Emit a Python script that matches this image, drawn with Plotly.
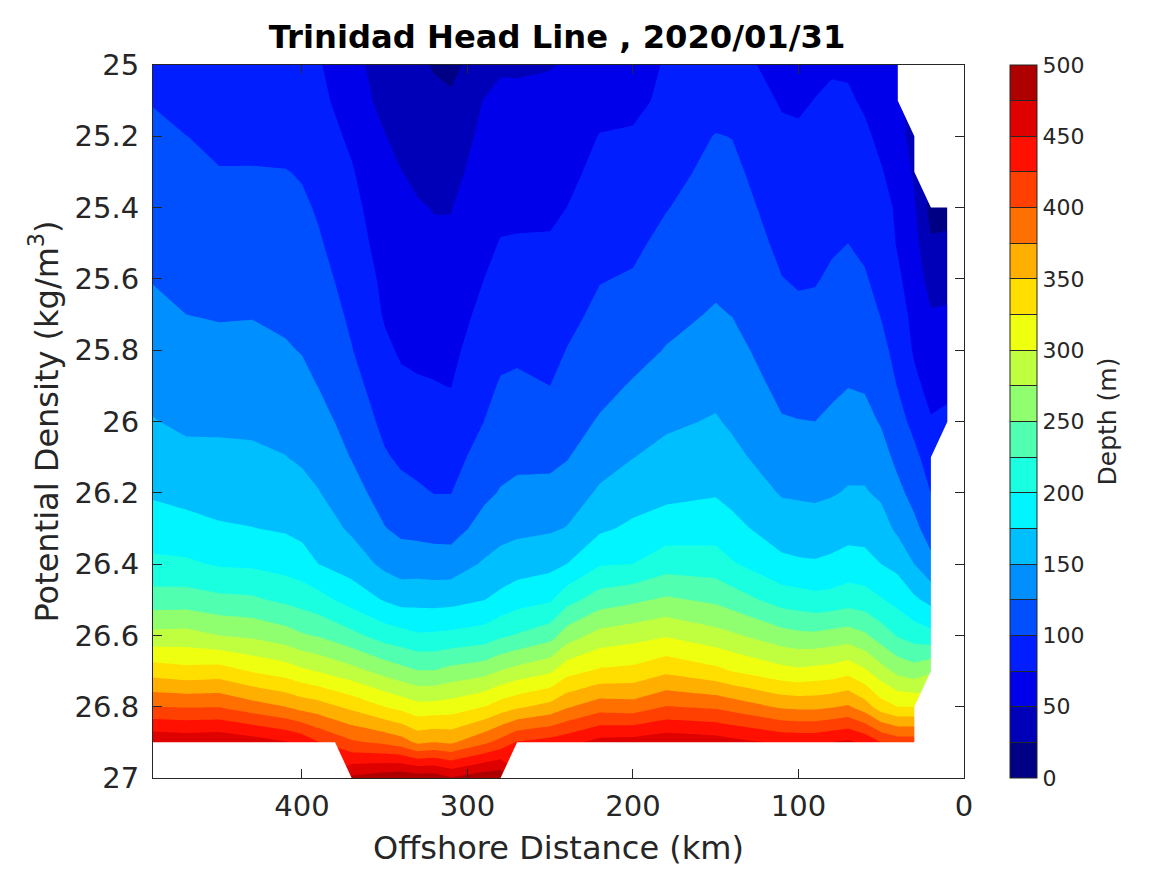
import numpy as np
import plotly.graph_objects as go

# potential density rows (kg/m3), top to bottom
density = [25.0, 25.1, 25.2, 25.3, 25.4, 25.5, 25.6, 25.7, 25.8, 25.9, 26.0,
           26.1, 26.2, 26.3, 26.4, 26.5, 26.6, 26.7, 26.8, 26.9, 27.0]

# depth (m) of each density surface, one list per offshore distance (km)
km490 = [92, 99, 104.5, 109, 114, 119, 124, 130, 137, 144, 151, 162, 172, 187, 205.5, 236.5, 282.6, 339, 400, 472, None]
km470 = [86, 90, 100.3, 105, 110, 115, 120, 125, 132, 139, 146, 155.5, 168, 183, 204, 237, 284, 333, 398.5, 468, None]
km450 = [84, 88, 95, 101, 106.6, 112, 118, 123.5, 130.5, 138, 146, 155, 165.5, 177.6, 197.5, 231, 275, 336, 399, 471, None]
km430 = [82, 86, 93, 101.5, 107, 113, 118.5, 124, 131, 138, 145.5, 154, 165, 175.5, 196, 229, 270.5, 323, 386, 463, None]
km410 = [78, 82, 90, 101, 106, 111, 116, 121, 127, 135, 142.5, 150.5, 161.5, 172.5, 190.5, 220, 261, 313.5, 375, 452, None]
km400 = [78, 82, 90, 98, 104, 109, 114, 119, 124, 131, 139, 147, 157, 168.5, 185.5, 215, 252.5, 305, 366, 443, None]
km390 = [77, 81, 86, 92, 97.5, 102.5, 108, 113.5, 119, 124.5, 133, 142, 151, 163, 175, 209, 248, 298.5, 361, 426, None]
km370 = [60, 64, 71, 77, 82, 86, 91, 96, 101, 109, 116.5, 124, 135, 146, 164, 190, 232, 284, 344, 404, 480]
km350 = [36, 42, 51, 57, 61, 65.5, 70, 73, 79, 86, 94, 102.5, 114, 126, 144, 173, 214, 266, 325, 395, 490]
km340 = [30, 35, 42, 50.5, 55, 59, 64, 68, 72.5, 79, 87.5, 96, 107, 119.5, 138, 166, 209, 258, 317, 387, 495]
km330 = [27, 30, 36, 45, 52, 56.5, 62, 66, 71, 77, 85, 93.5, 103, 118, 138, 167, 203, 251, 308, 370, 490]
km320 = [24, 28, 35, 43, 49, 54, 59.5, 65, 70, 76, 83.5, 91.5, 99.5, 116, 137, 166, 204, 251, 309, 375, 490]
km310 = [20, 28, 36, 42.5, 49, 54, 59.5, 64.5, 69.5, 74.5, 83, 91, 99.5, 115, 137, 167, 206, 258, 312, 371, 477]
km290 = [35, 51, 56, 61, 66, 70, 75, 81, 87.5, 94, 100, 110, 120, 134, 153, 174.5, 211, 265.5, 325, 394.5, 492]
km280 = [48, 54, 59.5, 65, 70.5, 76, 83.5, 90, 95, 102, 110, 118, 126.5, 141.5, 159, 182, 221, 276, 337, 409, 495]
km270 = [47, 55, 60.5, 65.5, 71, 76.5, 83, 89.5, 96, 104, 112, 120, 130, 144.5, 163, 190, 227, 284, 346, 427, None]
km250 = [49, 55, 60, 66, 71, 77, 82.5, 88.5, 94, 100, 110, 119.5, 131.5, 147, 168, 197, 240, 296, 358, 435, None]
km240 = [52, 57, 63, 69, 75, 81.5, 88, 94, 100.5, 108, 116, 123.5, 137, 151, 175, 216, 262, 316, 372, 441, None]
km220 = [57, 66, 76, 81.5, 87.5, 93, 99, 105, 111.5, 118.5, 127, 140, 153.5, 171, 198, 237, 284, 329, 388.5, 459, None]
km200 = [60, 68, 78, 84, 90, 95.5, 102, 110, 118, 127, 138, 149.5, 164, 179.5, 200, 245, 290.5, 332, 386, 461, None]
km180 = [78, 81, 87, 93, 99, 106, 112, 119, 126, 136, 146, 157, 169, 187, 214, 254, 298, 345, 401, 468, None]
km150 = [82, 90, 101, 106, 111, 116, 121, 127, 135, 143.5, 152, 163, 173, 189, 212, 245, 284, 332, 396, 463, None]
km140 = [82, 90, 99.5, 105, 110, 115, 119.5, 124.5, 131.5, 138.5, 146.5, 156, 168, 182, 202.5, 238, 279, 324, 390, 458, None]
km110 = [68, 73, 79, 85, 90, 95, 100.5, 107, 113.5, 119.5, 126.5, 137, 148, 162.5, 181, 214, 260, 308, 371, 446, None]
km100 = [68, 72, 78, 83, 88, 93, 98, 104, 111, 118, 125.5, 136, 147, 161, 178.5, 211, 256, 305, 369, 445, None]
km90 = [70, 75.5, 80, 85, 89.5, 94, 98.5, 105, 111.5, 118, 125, 135, 146, 160, 177.5, 207.5, 255, 308, 369, 445, None]
km80 = [73, 78, 83, 87, 92.5, 97.5, 103, 109, 115, 121, 129, 140, 148, 163, 180, 209, 259, 310, 373, 450, None]
km70 = [72, 78, 83.5, 89, 94.5, 100, 106, 112, 118, 124.5, 133, 142.5, 152, 166, 185, 214, 262, 317, 378, 455, None]
km60 = [65, 72, 79, 85, 90, 96, 102, 109, 116, 123, 132, 142, 152, 166, 183, 211, 254, 304, 362, 445, None]
km50 = [58, 64, 70, 76.5, 82, 88, 93.5, 99, 106, 114, 123, 134, 146, 160, 175, 202, 238, 285, 337, 425, None]
km40 = [51, 53, 60, 66, 72, 73, 79, 86, 93, 99, 109, 119, 131, 145, 168, 192, 223, 268, 325, 415, None]
km30 = [None, None, 40, 47, 53, 58, 63, 68, 72, 81, 93, 106, 117, 131, 150, 179, 214, 261, 325, 415, None]
km20 = [None, None, None, None, 16, 28, 41, 52, 59, 67, 77, 89, 100, 114, 132, 168, 208, 272, None, None, None]
km10 = [None, None, None, None, 16, 30, 42, 53, 62, 70, 80, None, None, None, None, None, None, None, None, None, None]

stations = [490, 470, 450, 430, 410, 400, 390, 370, 350, 340, 330, 320, 310, 290, 280, 270, 250,
            240, 220, 200, 180, 150, 140, 110, 100, 90, 80, 70, 60, 50, 40, 30, 20, 10]
columns = [km490, km470, km450, km430, km410, km400, km390, km370, km350, km340, km330, km320, km310,
           km290, km280, km270, km250, km240, km220, km200, km180, km150, km140, km110, km100, km90,
           km80, km70, km60, km50, km40, km30, km20, km10]

# outline of the no data areas, plotly clips gaps half a cell too far out
gap_right_x = [40, 40, 30, 30, 20, 10, 10, 20, 20, 30, 30, 270, 280, 0, 0, 40]
gap_right_y = [25, 25.1, 25.2, 25.3, 25.4, 25.4, 26, 26.1, 26.7, 26.8, 26.9, 26.9, 27, 27, 25, 25]
gap_left_x = [490, 380, 370, 490, 490]
gap_left_y = [26.9, 26.9, 27, 27, 26.9]

band_colors = ['#000085', '#0000b8', '#0000eb', '#001eff', '#0050ff', '#008fff', '#00bfff', '#00f5ff',
               '#1affe0', '#50ffaf', '#8fff70', '#bfff40', '#efff10', '#ffdf00', '#ffaf00', '#ff7000',
               '#ff4000', '#ff1000', '#df0000', '#af0000']
depth_ticks = list(range(0, 501, 25))
depth_labels = [str(d) + '&nbsp;' if d % 50 == 0 else ' ' for d in depth_ticks]
x_ticks = [0, 100, 200, 300, 400]
y_ticks = [25, 25.2, 25.4, 25.6, 25.8, 26, 26.2, 26.4, 26.6, 26.8, 27]
y_labels = ['25', '25.2', '25.4', '25.6', '25.8', '26', '26.2', '26.4', '26.6', '26.8', '27']

z = np.array(columns, dtype=float).T

colorscale = []
for i, c in enumerate(band_colors):
    colorscale.append([i / 20, c])
    colorscale.append([(i + 1) / 20, c])

ink = '#262626'
font = 'DejaVu Sans'

fig = go.Figure()
fig.add_trace(go.Contour(x=stations, y=density, z=z,
                         zmin=0, zmax=500,
                         colorscale=colorscale,
                         contours=dict(start=0, end=500, size=25, coloring='fill'),
                         line=dict(width=0, smoothing=0),
                         colorbar=dict(x=1.0566, xanchor='left', xpad=0, ypad=0, y=0.5, len=1,
                                       thickness=27, outlinecolor=ink, outlinewidth=1,
                                       tickmode='array', tickvals=depth_ticks, ticktext=depth_labels,
                                       ticks='inside', ticklen=27, tickwidth=1, tickcolor=ink,
                                       tickfont=dict(family=font, size=22, color=ink),
                                       title=dict(text='Depth (m)', side='right',
                                                  font=dict(family=font, size=25, color=ink)))))
for gx, gy in [(gap_right_x, gap_right_y), (gap_left_x, gap_left_y)]:
    fig.add_trace(go.Scatter(x=gx, y=gy, mode='lines', fill='toself', fillcolor='white',
                             line=dict(width=0), hoverinfo='skip', showlegend=False))

fig.update_layout(width=1167, height=875,
                  margin=dict(l=152.5, r=202.5, t=64.5, b=96.5),
                  plot_bgcolor='white', paper_bgcolor='white',
                  title=dict(text='<b>Trinidad Head Line , 2020/01/31</b>',
                             x=557 / 1167, xanchor='center', y=1 - 37 / 875, yanchor='middle',
                             font=dict(family=font, size=32.2, color='black')),
                  xaxis=dict(range=[490, 0], tickmode='array', tickvals=x_ticks,
                             ticks='inside', ticklen=9, tickcolor=ink, showgrid=False, zeroline=False,
                             showline=True, linecolor=ink, linewidth=1, mirror='ticks',
                             ticklabelstandoff=2,
                             tickfont=dict(family=font, size=29, color=ink),
                             title=dict(text='Offshore Distance (km)', standoff=14,
                                        font=dict(family=font, size=32, color=ink))),
                  yaxis=dict(range=[27, 25], tickmode='array', tickvals=y_ticks, ticktext=y_labels,
                             ticks='inside', ticklen=9, tickcolor=ink, showgrid=False, zeroline=False,
                             showline=True, linecolor=ink, linewidth=1, mirror='ticks',
                             ticklabelstandoff=7,
                             tickfont=dict(family=font, size=29, color=ink),
                             title=dict(text='Potential Density (kg/m<sup>3</sup>)', standoff=6,
                                        font=dict(family=font, size=32, color=ink))))

fig.write_html("out.html", config=dict(displayModeBar=False),
               post_script="document.body.style.margin='0';")
